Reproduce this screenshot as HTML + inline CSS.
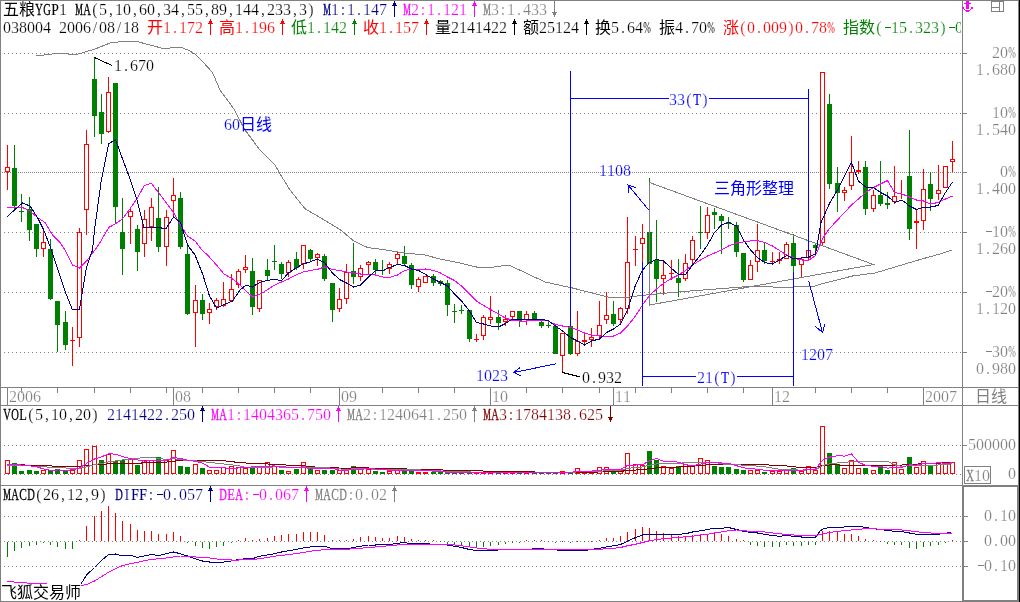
<!DOCTYPE html><html><head><meta charset="utf-8"><style>html,body{margin:0;padding:0;background:#fff}svg{display:block;will-change:transform}</style></head><body><svg width="1020" height="602" viewBox="0 0 1020 602" font-family="Liberation Serif, serif" font-size="16px" text-anchor="middle">
<rect width="1020" height="602" fill="#fff"/>
<g shape-rendering="crispEdges">
<rect x="0" y="0" width="1019" height="1" fill="#808080"/>
<rect x="0" y="0" width="1" height="602" fill="#808080"/>
<rect x="962" y="0" width="1" height="485" fill="#808080"/>
<rect x="1018" y="0" width="1" height="486" fill="#808080"/>
<rect x="1019" y="0" width="1" height="602" fill="#000000"/>
<rect x="0" y="387" width="1019" height="1" fill="#808080"/>
<rect x="0" y="405" width="1019" height="1" fill="#808080"/>
<rect x="0" y="485" width="962" height="1" fill="#808080"/>
<rect x="0" y="601" width="962" height="1" fill="#808080"/>
<rect x="963" y="486" width="55" height="115" fill="none" stroke="#808080" stroke-width="2"/>
<line x1="4" y1="53.5" x2="962" y2="53.5" stroke="#808080" stroke-width="1" stroke-dasharray="1 3"/>
<rect x="963" y="53" width="4" height="1" fill="#808080"/>
<line x1="4" y1="113.5" x2="962" y2="113.5" stroke="#808080" stroke-width="1" stroke-dasharray="1 3"/>
<rect x="963" y="113" width="4" height="1" fill="#808080"/>
<line x1="2" y1="172.5" x2="962" y2="172.5" stroke="#808080" stroke-width="1" stroke-dasharray="1 1"/>
<rect x="963" y="172" width="4" height="1" fill="#808080"/>
<line x1="4" y1="232.5" x2="962" y2="232.5" stroke="#808080" stroke-width="1" stroke-dasharray="1 3"/>
<rect x="963" y="232" width="4" height="1" fill="#808080"/>
<line x1="4" y1="292.5" x2="962" y2="292.5" stroke="#808080" stroke-width="1" stroke-dasharray="1 3"/>
<rect x="963" y="292" width="4" height="1" fill="#808080"/>
<line x1="4" y1="352.5" x2="962" y2="352.5" stroke="#808080" stroke-width="1" stroke-dasharray="1 3"/>
<rect x="963" y="352" width="4" height="1" fill="#808080"/>
<line x1="4" y1="445.5" x2="962" y2="445.5" stroke="#808080" stroke-width="1" stroke-dasharray="1 3"/>
<rect x="963" y="445" width="4" height="1" fill="#808080"/>
<line x1="4" y1="474.5" x2="962" y2="474.5" stroke="#808080" stroke-width="1" stroke-dasharray="1 3"/>
<line x1="4" y1="516.5" x2="962" y2="516.5" stroke="#808080" stroke-width="1" stroke-dasharray="1 3"/>
<rect x="964" y="516" width="4" height="1" fill="#808080"/>
<line x1="4" y1="541.5" x2="962" y2="541.5" stroke="#808080" stroke-width="1" stroke-dasharray="1 3"/>
<rect x="964" y="541" width="4" height="1" fill="#808080"/>
<line x1="4" y1="566.5" x2="962" y2="566.5" stroke="#808080" stroke-width="1" stroke-dasharray="1 3"/>
<rect x="964" y="566" width="4" height="1" fill="#808080"/>
<rect x="21" y="388" width="1" height="5" fill="#808080"/>
<rect x="57" y="388" width="1" height="5" fill="#808080"/>
<rect x="94" y="388" width="1" height="5" fill="#808080"/>
<rect x="130" y="388" width="1" height="5" fill="#808080"/>
<rect x="166" y="388" width="1" height="5" fill="#808080"/>
<rect x="202" y="388" width="1" height="5" fill="#808080"/>
<rect x="238" y="388" width="1" height="5" fill="#808080"/>
<rect x="274" y="388" width="1" height="5" fill="#808080"/>
<rect x="310" y="388" width="1" height="5" fill="#808080"/>
<rect x="382" y="388" width="1" height="5" fill="#808080"/>
<rect x="418" y="388" width="1" height="5" fill="#808080"/>
<rect x="454" y="388" width="1" height="5" fill="#808080"/>
<rect x="526" y="388" width="1" height="5" fill="#808080"/>
<rect x="562" y="388" width="1" height="5" fill="#808080"/>
<rect x="599" y="388" width="1" height="5" fill="#808080"/>
<rect x="635" y="388" width="1" height="5" fill="#808080"/>
<rect x="671" y="388" width="1" height="5" fill="#808080"/>
<rect x="707" y="388" width="1" height="5" fill="#808080"/>
<rect x="743" y="388" width="1" height="5" fill="#808080"/>
<rect x="815" y="388" width="1" height="5" fill="#808080"/>
<rect x="851" y="388" width="1" height="5" fill="#808080"/>
<rect x="887" y="388" width="1" height="5" fill="#808080"/>
<rect x="7" y="388" width="1" height="17" fill="#808080"/>
<rect x="173" y="388" width="1" height="17" fill="#808080"/>
<rect x="339" y="388" width="1" height="17" fill="#808080"/>
<rect x="490" y="388" width="1" height="17" fill="#808080"/>
<rect x="613" y="388" width="1" height="17" fill="#808080"/>
<rect x="772" y="388" width="1" height="17" fill="#808080"/>
<rect x="923" y="388" width="1" height="17" fill="#808080"/>
</g>
<text x="13 21 29 37" y="402" fill="#808080" stroke="#fff" stroke-width="0.22">2006</text>
<text x="179 187" y="402" fill="#808080" stroke="#fff" stroke-width="0.22">08</text>
<text x="345 353" y="402" fill="#808080" stroke="#fff" stroke-width="0.22">09</text>
<text x="496 504" y="402" fill="#808080" stroke="#fff" stroke-width="0.22">10</text>
<text x="619 627" y="402" fill="#808080" stroke="#fff" stroke-width="0.22">11</text>
<text x="778 786" y="402" fill="#808080" stroke="#fff" stroke-width="0.22">12</text>
<text x="929 937 945 953" y="402" fill="#808080" stroke="#fff" stroke-width="0.22">2007</text>
<text x="983 999" y="402" fill="#808080" font-family="Liberation Sans, Noto Sans CJK SC, sans-serif">日线</text>
<g shape-rendering="crispEdges">
<rect x="7" y="145" width="1" height="45" fill="#ff0000"/>
<rect x="5.5" y="167.5" width="4" height="4" fill="#fff" stroke="#ff0000" stroke-width="1"/>
<rect x="14" y="145" width="1" height="65" fill="#008000"/>
<rect x="12" y="168" width="5" height="38" fill="#008000"/>
<rect x="21" y="194" width="1" height="28" fill="#008000"/>
<rect x="19" y="211" width="5" height="1" fill="#008000"/>
<rect x="29" y="197" width="1" height="44" fill="#008000"/>
<rect x="27" y="209" width="5" height="21" fill="#008000"/>
<rect x="36" y="224" width="1" height="33" fill="#008000"/>
<rect x="34" y="224" width="5" height="25" fill="#008000"/>
<rect x="43" y="230" width="1" height="27" fill="#ff0000"/>
<rect x="41.5" y="242.5" width="4" height="6" fill="#fff" stroke="#ff0000" stroke-width="1"/>
<rect x="50" y="239" width="1" height="61" fill="#008000"/>
<rect x="48" y="249" width="5" height="50" fill="#008000"/>
<rect x="57" y="301" width="1" height="51" fill="#008000"/>
<rect x="55" y="301" width="5" height="24" fill="#008000"/>
<rect x="65" y="311" width="1" height="39" fill="#008000"/>
<rect x="63" y="322" width="5" height="23" fill="#008000"/>
<rect x="72" y="327" width="1" height="39" fill="#ff0000"/>
<rect x="70" y="340" width="5" height="1" fill="#ff0000"/>
<rect x="79" y="228" width="1" height="119" fill="#ff0000"/>
<rect x="77.5" y="232.5" width="4" height="105" fill="#fff" stroke="#ff0000" stroke-width="1"/>
<rect x="86" y="130" width="1" height="105" fill="#ff0000"/>
<rect x="84.5" y="144.5" width="4" height="65" fill="#fff" stroke="#ff0000" stroke-width="1"/>
<rect x="94" y="57" width="1" height="80" fill="#008000"/>
<rect x="92" y="79" width="5" height="37" fill="#008000"/>
<rect x="101" y="94" width="1" height="50" fill="#008000"/>
<rect x="99" y="112" width="5" height="22" fill="#008000"/>
<rect x="108" y="77" width="1" height="56" fill="#ff0000"/>
<rect x="106.5" y="92.5" width="4" height="39" fill="#fff" stroke="#ff0000" stroke-width="1"/>
<rect x="115" y="83" width="1" height="141" fill="#008000"/>
<rect x="113" y="83" width="5" height="124" fill="#008000"/>
<rect x="122" y="198" width="1" height="77" fill="#008000"/>
<rect x="120" y="232" width="5" height="17" fill="#008000"/>
<rect x="130" y="207" width="1" height="37" fill="#ff0000"/>
<rect x="128.5" y="211.5" width="4" height="5" fill="#fff" stroke="#ff0000" stroke-width="1"/>
<rect x="137" y="225" width="1" height="46" fill="#008000"/>
<rect x="135" y="229" width="5" height="23" fill="#008000"/>
<rect x="144" y="210" width="1" height="47" fill="#ff0000"/>
<rect x="142.5" y="219.5" width="4" height="24" fill="#fff" stroke="#ff0000" stroke-width="1"/>
<rect x="151" y="198" width="1" height="43" fill="#ff0000"/>
<rect x="149.5" y="207.5" width="4" height="19" fill="#fff" stroke="#ff0000" stroke-width="1"/>
<rect x="158" y="187" width="1" height="65" fill="#008000"/>
<rect x="156" y="218" width="5" height="29" fill="#008000"/>
<rect x="166" y="210" width="1" height="56" fill="#ff0000"/>
<rect x="164.5" y="217.5" width="4" height="29" fill="#fff" stroke="#ff0000" stroke-width="1"/>
<rect x="173" y="178" width="1" height="38" fill="#ff0000"/>
<rect x="171.5" y="195.5" width="4" height="5" fill="#fff" stroke="#ff0000" stroke-width="1"/>
<rect x="180" y="192" width="1" height="57" fill="#008000"/>
<rect x="178" y="198" width="5" height="49" fill="#008000"/>
<rect x="187" y="245" width="1" height="70" fill="#008000"/>
<rect x="185" y="254" width="5" height="60" fill="#008000"/>
<rect x="195" y="285" width="1" height="62" fill="#ff0000"/>
<rect x="193.5" y="300.5" width="4" height="12" fill="#fff" stroke="#ff0000" stroke-width="1"/>
<rect x="202" y="294" width="1" height="26" fill="#008000"/>
<rect x="200" y="300" width="5" height="14" fill="#008000"/>
<rect x="209" y="303" width="1" height="21" fill="#ff0000"/>
<rect x="207.5" y="309.5" width="4" height="3" fill="#fff" stroke="#ff0000" stroke-width="1"/>
<rect x="216" y="298" width="1" height="12" fill="#ff0000"/>
<rect x="214.5" y="300.5" width="4" height="6" fill="#fff" stroke="#ff0000" stroke-width="1"/>
<rect x="223" y="282" width="1" height="25" fill="#ff0000"/>
<rect x="221.5" y="299.5" width="4" height="6" fill="#fff" stroke="#ff0000" stroke-width="1"/>
<rect x="231" y="274" width="1" height="27" fill="#ff0000"/>
<rect x="229.5" y="289.5" width="4" height="11" fill="#fff" stroke="#ff0000" stroke-width="1"/>
<rect x="238" y="269" width="1" height="19" fill="#ff0000"/>
<rect x="236.5" y="271.5" width="4" height="13" fill="#fff" stroke="#ff0000" stroke-width="1"/>
<rect x="245" y="255" width="1" height="18" fill="#ff0000"/>
<rect x="243.5" y="267.5" width="4" height="2" fill="#fff" stroke="#ff0000" stroke-width="1"/>
<rect x="252" y="258" width="1" height="57" fill="#008000"/>
<rect x="250" y="271" width="5" height="36" fill="#008000"/>
<rect x="259" y="280" width="1" height="32" fill="#ff0000"/>
<rect x="257.5" y="280.5" width="4" height="28" fill="#fff" stroke="#ff0000" stroke-width="1"/>
<rect x="267" y="259" width="1" height="21" fill="#008000"/>
<rect x="265" y="270" width="5" height="6" fill="#008000"/>
<rect x="274" y="245" width="1" height="25" fill="#008000"/>
<rect x="272" y="261" width="5" height="1" fill="#008000"/>
<rect x="281" y="262" width="1" height="17" fill="#008000"/>
<rect x="279" y="264" width="5" height="10" fill="#008000"/>
<rect x="288" y="260" width="1" height="17" fill="#ff0000"/>
<rect x="286.5" y="262.5" width="4" height="10" fill="#fff" stroke="#ff0000" stroke-width="1"/>
<rect x="296" y="252" width="1" height="18" fill="#008000"/>
<rect x="294" y="259" width="5" height="9" fill="#008000"/>
<rect x="303" y="245" width="1" height="24" fill="#ff0000"/>
<rect x="301.5" y="245.5" width="4" height="18" fill="#fff" stroke="#ff0000" stroke-width="1"/>
<rect x="310" y="249" width="1" height="13" fill="#008000"/>
<rect x="308" y="250" width="5" height="9" fill="#008000"/>
<rect x="317" y="253" width="1" height="13" fill="#ff0000"/>
<rect x="315.5" y="254.5" width="4" height="3" fill="#fff" stroke="#ff0000" stroke-width="1"/>
<rect x="324" y="254" width="1" height="27" fill="#008000"/>
<rect x="322" y="256" width="5" height="23" fill="#008000"/>
<rect x="332" y="283" width="1" height="39" fill="#008000"/>
<rect x="330" y="283" width="5" height="27" fill="#008000"/>
<rect x="339" y="288" width="1" height="24" fill="#ff0000"/>
<rect x="337.5" y="299.5" width="4" height="9" fill="#fff" stroke="#ff0000" stroke-width="1"/>
<rect x="346" y="264" width="1" height="40" fill="#ff0000"/>
<rect x="344.5" y="272.5" width="4" height="26" fill="#fff" stroke="#ff0000" stroke-width="1"/>
<rect x="353" y="243" width="1" height="41" fill="#008000"/>
<rect x="351" y="271" width="5" height="6" fill="#008000"/>
<rect x="360" y="265" width="1" height="16" fill="#ff0000"/>
<rect x="358.5" y="268.5" width="4" height="8" fill="#fff" stroke="#ff0000" stroke-width="1"/>
<rect x="368" y="261" width="1" height="13" fill="#ff0000"/>
<rect x="366.5" y="262.5" width="4" height="2" fill="#fff" stroke="#ff0000" stroke-width="1"/>
<rect x="375" y="259" width="1" height="15" fill="#008000"/>
<rect x="373" y="262" width="5" height="8" fill="#008000"/>
<rect x="382" y="260" width="1" height="15" fill="#008000"/>
<rect x="380" y="270" width="5" height="1" fill="#008000"/>
<rect x="389" y="262" width="1" height="12" fill="#ff0000"/>
<rect x="387.5" y="264.5" width="4" height="4" fill="#fff" stroke="#ff0000" stroke-width="1"/>
<rect x="397" y="252" width="1" height="12" fill="#ff0000"/>
<rect x="395.5" y="254.5" width="4" height="4" fill="#fff" stroke="#ff0000" stroke-width="1"/>
<rect x="404" y="246" width="1" height="20" fill="#008000"/>
<rect x="402" y="256" width="5" height="8" fill="#008000"/>
<rect x="411" y="263" width="1" height="26" fill="#008000"/>
<rect x="409" y="265" width="5" height="20" fill="#008000"/>
<rect x="418" y="277" width="1" height="15" fill="#ff0000"/>
<rect x="416.5" y="279.5" width="4" height="7" fill="#fff" stroke="#ff0000" stroke-width="1"/>
<rect x="425" y="276" width="1" height="7" fill="#ff0000"/>
<rect x="423.5" y="276.5" width="4" height="6" fill="#fff" stroke="#ff0000" stroke-width="1"/>
<rect x="433" y="274" width="1" height="12" fill="#008000"/>
<rect x="431" y="276" width="5" height="7" fill="#008000"/>
<rect x="440" y="280" width="1" height="6" fill="#008000"/>
<rect x="438" y="281" width="5" height="3" fill="#008000"/>
<rect x="447" y="280" width="1" height="36" fill="#008000"/>
<rect x="445" y="283" width="5" height="22" fill="#008000"/>
<rect x="454" y="304" width="1" height="19" fill="#008000"/>
<rect x="452" y="311" width="5" height="1" fill="#008000"/>
<rect x="461" y="305" width="1" height="9" fill="#008000"/>
<rect x="459" y="310" width="5" height="1" fill="#008000"/>
<rect x="469" y="310" width="1" height="32" fill="#008000"/>
<rect x="467" y="310" width="5" height="29" fill="#008000"/>
<rect x="476" y="334" width="1" height="8" fill="#ff0000"/>
<rect x="474" y="339" width="5" height="1" fill="#ff0000"/>
<rect x="483" y="315" width="1" height="25" fill="#ff0000"/>
<rect x="481.5" y="317.5" width="4" height="18" fill="#fff" stroke="#ff0000" stroke-width="1"/>
<rect x="490" y="296" width="1" height="28" fill="#ff0000"/>
<rect x="488.5" y="317.5" width="4" height="2" fill="#fff" stroke="#ff0000" stroke-width="1"/>
<rect x="498" y="310" width="1" height="20" fill="#008000"/>
<rect x="496" y="317" width="5" height="6" fill="#008000"/>
<rect x="505" y="315" width="1" height="11" fill="#ff0000"/>
<rect x="503.5" y="319.5" width="4" height="2" fill="#fff" stroke="#ff0000" stroke-width="1"/>
<rect x="512" y="311" width="1" height="8" fill="#ff0000"/>
<rect x="510.5" y="311.5" width="4" height="5" fill="#fff" stroke="#ff0000" stroke-width="1"/>
<rect x="519" y="311" width="1" height="16" fill="#008000"/>
<rect x="517" y="311" width="5" height="10" fill="#008000"/>
<rect x="526" y="311" width="1" height="14" fill="#ff0000"/>
<rect x="524.5" y="314.5" width="4" height="5" fill="#fff" stroke="#ff0000" stroke-width="1"/>
<rect x="534" y="311" width="1" height="10" fill="#008000"/>
<rect x="532" y="313" width="5" height="8" fill="#008000"/>
<rect x="541" y="320" width="1" height="8" fill="#008000"/>
<rect x="539" y="322" width="5" height="4" fill="#008000"/>
<rect x="548" y="322" width="1" height="6" fill="#008000"/>
<rect x="546" y="325" width="5" height="1" fill="#008000"/>
<rect x="555" y="324" width="1" height="30" fill="#008000"/>
<rect x="553" y="326" width="5" height="28" fill="#008000"/>
<rect x="562" y="333" width="1" height="38" fill="#ff0000"/>
<rect x="560.5" y="333.5" width="4" height="22" fill="#fff" stroke="#ff0000" stroke-width="1"/>
<rect x="570" y="326" width="1" height="29" fill="#008000"/>
<rect x="568" y="326" width="5" height="28" fill="#008000"/>
<rect x="577" y="311" width="1" height="45" fill="#ff0000"/>
<rect x="575.5" y="341.5" width="4" height="12" fill="#fff" stroke="#ff0000" stroke-width="1"/>
<rect x="584" y="332" width="1" height="14" fill="#ff0000"/>
<rect x="582.5" y="340.5" width="4" height="1" fill="#fff" stroke="#ff0000" stroke-width="1"/>
<rect x="591" y="328" width="1" height="19" fill="#ff0000"/>
<rect x="589.5" y="337.5" width="4" height="2" fill="#fff" stroke="#ff0000" stroke-width="1"/>
<rect x="599" y="301" width="1" height="39" fill="#ff0000"/>
<rect x="597.5" y="325.5" width="4" height="10" fill="#fff" stroke="#ff0000" stroke-width="1"/>
<rect x="606" y="292" width="1" height="32" fill="#ff0000"/>
<rect x="604.5" y="315.5" width="4" height="4" fill="#fff" stroke="#ff0000" stroke-width="1"/>
<rect x="613" y="301" width="1" height="25" fill="#008000"/>
<rect x="611" y="314" width="5" height="10" fill="#008000"/>
<rect x="620" y="307" width="1" height="17" fill="#ff0000"/>
<rect x="618.5" y="308.5" width="4" height="11" fill="#fff" stroke="#ff0000" stroke-width="1"/>
<rect x="627" y="217" width="1" height="97" fill="#ff0000"/>
<rect x="625.5" y="262.5" width="4" height="46" fill="#fff" stroke="#ff0000" stroke-width="1"/>
<rect x="635" y="236" width="1" height="30" fill="#ff0000"/>
<rect x="633" y="249" width="5" height="1" fill="#ff0000"/>
<rect x="642" y="224" width="1" height="38" fill="#ff0000"/>
<rect x="640.5" y="238.5" width="4" height="5" fill="#fff" stroke="#ff0000" stroke-width="1"/>
<rect x="649" y="178" width="1" height="87" fill="#008000"/>
<rect x="647" y="232" width="5" height="32" fill="#008000"/>
<rect x="656" y="220" width="1" height="82" fill="#008000"/>
<rect x="654" y="260" width="5" height="19" fill="#008000"/>
<rect x="663" y="262" width="1" height="33" fill="#ff0000"/>
<rect x="661.5" y="275.5" width="4" height="3" fill="#fff" stroke="#ff0000" stroke-width="1"/>
<rect x="671" y="260" width="1" height="20" fill="#ff0000"/>
<rect x="669" y="273" width="5" height="1" fill="#ff0000"/>
<rect x="678" y="259" width="1" height="38" fill="#008000"/>
<rect x="676" y="278" width="5" height="5" fill="#008000"/>
<rect x="685" y="254" width="1" height="27" fill="#ff0000"/>
<rect x="683.5" y="263.5" width="4" height="15" fill="#fff" stroke="#ff0000" stroke-width="1"/>
<rect x="692" y="236" width="1" height="28" fill="#ff0000"/>
<rect x="690.5" y="240.5" width="4" height="19" fill="#fff" stroke="#ff0000" stroke-width="1"/>
<rect x="700" y="206" width="1" height="43" fill="#008000"/>
<rect x="698" y="232" width="5" height="1" fill="#008000"/>
<rect x="707" y="207" width="1" height="32" fill="#ff0000"/>
<rect x="705.5" y="215.5" width="4" height="17" fill="#fff" stroke="#ff0000" stroke-width="1"/>
<rect x="714" y="208" width="1" height="21" fill="#008000"/>
<rect x="712" y="212" width="5" height="3" fill="#008000"/>
<rect x="721" y="214" width="1" height="40" fill="#008000"/>
<rect x="719" y="216" width="5" height="5" fill="#008000"/>
<rect x="728" y="217" width="1" height="12" fill="#008000"/>
<rect x="726" y="222" width="5" height="2" fill="#008000"/>
<rect x="736" y="222" width="1" height="35" fill="#008000"/>
<rect x="734" y="225" width="5" height="27" fill="#008000"/>
<rect x="743" y="253" width="1" height="29" fill="#008000"/>
<rect x="741" y="253" width="5" height="27" fill="#008000"/>
<rect x="750" y="260" width="1" height="20" fill="#ff0000"/>
<rect x="748.5" y="265.5" width="4" height="14" fill="#fff" stroke="#ff0000" stroke-width="1"/>
<rect x="757" y="224" width="1" height="48" fill="#ff0000"/>
<rect x="755.5" y="250.5" width="4" height="11" fill="#fff" stroke="#ff0000" stroke-width="1"/>
<rect x="764" y="242" width="1" height="22" fill="#008000"/>
<rect x="762" y="250" width="5" height="11" fill="#008000"/>
<rect x="772" y="252" width="1" height="13" fill="#ff0000"/>
<rect x="770" y="261" width="5" height="1" fill="#ff0000"/>
<rect x="779" y="252" width="1" height="12" fill="#ff0000"/>
<rect x="777.5" y="259.5" width="4" height="1" fill="#fff" stroke="#ff0000" stroke-width="1"/>
<rect x="786" y="242" width="1" height="17" fill="#ff0000"/>
<rect x="784.5" y="244.5" width="4" height="14" fill="#fff" stroke="#ff0000" stroke-width="1"/>
<rect x="793" y="234" width="1" height="38" fill="#008000"/>
<rect x="791" y="243" width="5" height="23" fill="#008000"/>
<rect x="801" y="257" width="1" height="20" fill="#ff0000"/>
<rect x="799.5" y="259.5" width="4" height="5" fill="#fff" stroke="#ff0000" stroke-width="1"/>
<rect x="808" y="236" width="1" height="25" fill="#ff0000"/>
<rect x="806.5" y="250.5" width="4" height="7" fill="#fff" stroke="#ff0000" stroke-width="1"/>
<rect x="815" y="244" width="1" height="11" fill="#008000"/>
<rect x="813" y="245" width="5" height="3" fill="#008000"/>
<rect x="822" y="72" width="1" height="173" fill="#ff0000"/>
<rect x="820.5" y="72.5" width="4" height="170" fill="#fff" stroke="#ff0000" stroke-width="1"/>
<rect x="829" y="94" width="1" height="95" fill="#008000"/>
<rect x="827" y="104" width="5" height="80" fill="#008000"/>
<rect x="837" y="167" width="1" height="45" fill="#008000"/>
<rect x="835" y="183" width="5" height="10" fill="#008000"/>
<rect x="844" y="187" width="1" height="14" fill="#ff0000"/>
<rect x="842.5" y="190.5" width="4" height="2" fill="#fff" stroke="#ff0000" stroke-width="1"/>
<rect x="851" y="136" width="1" height="54" fill="#ff0000"/>
<rect x="849.5" y="172.5" width="4" height="13" fill="#fff" stroke="#ff0000" stroke-width="1"/>
<rect x="858" y="161" width="1" height="13" fill="#ff0000"/>
<rect x="856.5" y="170.5" width="4" height="1" fill="#fff" stroke="#ff0000" stroke-width="1"/>
<rect x="865" y="161" width="1" height="54" fill="#008000"/>
<rect x="863" y="167" width="5" height="42" fill="#008000"/>
<rect x="873" y="190" width="1" height="22" fill="#ff0000"/>
<rect x="871.5" y="195.5" width="4" height="13" fill="#fff" stroke="#ff0000" stroke-width="1"/>
<rect x="880" y="161" width="1" height="45" fill="#008000"/>
<rect x="878" y="195" width="5" height="9" fill="#008000"/>
<rect x="887" y="192" width="1" height="17" fill="#008000"/>
<rect x="885" y="203" width="5" height="2" fill="#008000"/>
<rect x="894" y="166" width="1" height="38" fill="#ff0000"/>
<rect x="892.5" y="196.5" width="4" height="5" fill="#fff" stroke="#ff0000" stroke-width="1"/>
<rect x="901" y="180" width="1" height="19" fill="#ff0000"/>
<rect x="909" y="130" width="1" height="110" fill="#008000"/>
<rect x="907" y="176" width="5" height="53" fill="#008000"/>
<rect x="916" y="210" width="1" height="39" fill="#ff0000"/>
<rect x="914.5" y="221.5" width="4" height="1" fill="#fff" stroke="#ff0000" stroke-width="1"/>
<rect x="923" y="169" width="1" height="61" fill="#ff0000"/>
<rect x="921.5" y="189.5" width="4" height="31" fill="#fff" stroke="#ff0000" stroke-width="1"/>
<rect x="930" y="172" width="1" height="39" fill="#008000"/>
<rect x="928" y="184" width="5" height="15" fill="#008000"/>
<rect x="938" y="165" width="1" height="35" fill="#ff0000"/>
<rect x="936.5" y="190.5" width="4" height="3" fill="#fff" stroke="#ff0000" stroke-width="1"/>
<rect x="945" y="166" width="1" height="22" fill="#ff0000"/>
<rect x="943.5" y="166.5" width="4" height="21" fill="#fff" stroke="#ff0000" stroke-width="1"/>
<rect x="952" y="141" width="1" height="31" fill="#ff0000"/>
<rect x="950.5" y="159.5" width="4" height="2" fill="#fff" stroke="#ff0000" stroke-width="1"/>
<rect x="5.5" y="460.5" width="4" height="13" fill="#fff" stroke="#ff0000" stroke-width="1"/>
<rect x="12" y="463" width="5" height="11" fill="#008000"/>
<rect x="19" y="471" width="5" height="3" fill="#008000"/>
<rect x="27" y="470" width="5" height="4" fill="#008000"/>
<rect x="34" y="471" width="5" height="3" fill="#008000"/>
<rect x="41.5" y="470.5" width="4" height="3" fill="#fff" stroke="#ff0000" stroke-width="1"/>
<rect x="48" y="470" width="5" height="4" fill="#008000"/>
<rect x="55" y="469" width="5" height="5" fill="#008000"/>
<rect x="63" y="470" width="5" height="4" fill="#008000"/>
<rect x="70.5" y="470.5" width="4" height="3" fill="#fff" stroke="#ff0000" stroke-width="1"/>
<rect x="77.5" y="460.5" width="4" height="13" fill="#fff" stroke="#ff0000" stroke-width="1"/>
<rect x="84.5" y="449.5" width="4" height="24" fill="#fff" stroke="#ff0000" stroke-width="1"/>
<rect x="92.5" y="446.5" width="4" height="27" fill="#fff" stroke="#ff0000" stroke-width="1"/>
<rect x="99" y="460" width="5" height="14" fill="#008000"/>
<rect x="106.5" y="454.5" width="4" height="19" fill="#fff" stroke="#ff0000" stroke-width="1"/>
<rect x="113" y="461" width="5" height="13" fill="#008000"/>
<rect x="120" y="460" width="5" height="14" fill="#008000"/>
<rect x="128.5" y="459.5" width="4" height="14" fill="#fff" stroke="#ff0000" stroke-width="1"/>
<rect x="135" y="465" width="5" height="9" fill="#008000"/>
<rect x="142.5" y="460.5" width="4" height="13" fill="#fff" stroke="#ff0000" stroke-width="1"/>
<rect x="149.5" y="460.5" width="4" height="13" fill="#fff" stroke="#ff0000" stroke-width="1"/>
<rect x="156" y="457" width="5" height="17" fill="#008000"/>
<rect x="164.5" y="460.5" width="4" height="13" fill="#fff" stroke="#ff0000" stroke-width="1"/>
<rect x="171.5" y="450.5" width="4" height="23" fill="#fff" stroke="#ff0000" stroke-width="1"/>
<rect x="178" y="466" width="5" height="8" fill="#008000"/>
<rect x="185" y="467" width="5" height="7" fill="#008000"/>
<rect x="193.5" y="464.5" width="4" height="9" fill="#fff" stroke="#ff0000" stroke-width="1"/>
<rect x="200" y="468" width="5" height="6" fill="#008000"/>
<rect x="207.5" y="470.5" width="4" height="3" fill="#fff" stroke="#ff0000" stroke-width="1"/>
<rect x="214.5" y="470.5" width="4" height="3" fill="#fff" stroke="#ff0000" stroke-width="1"/>
<rect x="221.5" y="467.5" width="4" height="6" fill="#fff" stroke="#ff0000" stroke-width="1"/>
<rect x="229.5" y="466.5" width="4" height="7" fill="#fff" stroke="#ff0000" stroke-width="1"/>
<rect x="236.5" y="467.5" width="4" height="6" fill="#fff" stroke="#ff0000" stroke-width="1"/>
<rect x="243.5" y="468.5" width="4" height="5" fill="#fff" stroke="#ff0000" stroke-width="1"/>
<rect x="250" y="468" width="5" height="6" fill="#008000"/>
<rect x="257.5" y="466.5" width="4" height="7" fill="#fff" stroke="#ff0000" stroke-width="1"/>
<rect x="265.5" y="462.5" width="4" height="11" fill="#fff" stroke="#ff0000" stroke-width="1"/>
<rect x="272.5" y="466.5" width="4" height="7" fill="#fff" stroke="#ff0000" stroke-width="1"/>
<rect x="279" y="470" width="5" height="4" fill="#008000"/>
<rect x="286.5" y="471.5" width="4" height="2" fill="#fff" stroke="#ff0000" stroke-width="1"/>
<rect x="294" y="469" width="5" height="5" fill="#008000"/>
<rect x="301.5" y="462.5" width="4" height="11" fill="#fff" stroke="#ff0000" stroke-width="1"/>
<rect x="308" y="469" width="5" height="5" fill="#008000"/>
<rect x="315.5" y="470.5" width="4" height="3" fill="#fff" stroke="#ff0000" stroke-width="1"/>
<rect x="322" y="470" width="5" height="4" fill="#008000"/>
<rect x="330" y="470" width="5" height="4" fill="#008000"/>
<rect x="337.5" y="470.5" width="4" height="3" fill="#fff" stroke="#ff0000" stroke-width="1"/>
<rect x="344.5" y="470.5" width="4" height="3" fill="#fff" stroke="#ff0000" stroke-width="1"/>
<rect x="351" y="466" width="5" height="8" fill="#008000"/>
<rect x="358.5" y="469.5" width="4" height="4" fill="#fff" stroke="#ff0000" stroke-width="1"/>
<rect x="366.5" y="469.5" width="4" height="4" fill="#fff" stroke="#ff0000" stroke-width="1"/>
<rect x="373" y="471" width="5" height="3" fill="#008000"/>
<rect x="380" y="472" width="5" height="2" fill="#008000"/>
<rect x="387.5" y="471.5" width="4" height="2" fill="#fff" stroke="#ff0000" stroke-width="1"/>
<rect x="395.5" y="468.5" width="4" height="5" fill="#fff" stroke="#ff0000" stroke-width="1"/>
<rect x="402" y="470" width="5" height="4" fill="#008000"/>
<rect x="409" y="470" width="5" height="4" fill="#008000"/>
<rect x="416" y="472" width="5" height="2" fill="#ff0000"/>
<rect x="423" y="472" width="5" height="2" fill="#ff0000"/>
<rect x="431" y="472" width="5" height="2" fill="#008000"/>
<rect x="438" y="472" width="5" height="2" fill="#008000"/>
<rect x="445" y="472" width="5" height="2" fill="#008000"/>
<rect x="452" y="473" width="5" height="1" fill="#008000"/>
<rect x="459" y="473" width="5" height="1" fill="#008000"/>
<rect x="467" y="472" width="5" height="2" fill="#008000"/>
<rect x="474" y="473" width="5" height="1" fill="#ff0000"/>
<rect x="481" y="472" width="5" height="2" fill="#ff0000"/>
<rect x="488" y="473" width="5" height="1" fill="#ff0000"/>
<rect x="496" y="472" width="5" height="2" fill="#008000"/>
<rect x="503" y="472" width="5" height="2" fill="#ff0000"/>
<rect x="510" y="472" width="5" height="2" fill="#ff0000"/>
<rect x="517" y="472" width="5" height="2" fill="#008000"/>
<rect x="524" y="472" width="5" height="2" fill="#ff0000"/>
<rect x="532" y="472" width="5" height="2" fill="#008000"/>
<rect x="539" y="473" width="5" height="1" fill="#008000"/>
<rect x="546" y="473" width="5" height="1" fill="#008000"/>
<rect x="553" y="472" width="5" height="2" fill="#008000"/>
<rect x="560.5" y="471.5" width="4" height="2" fill="#fff" stroke="#ff0000" stroke-width="1"/>
<rect x="568" y="472" width="5" height="2" fill="#008000"/>
<rect x="575.5" y="468.5" width="4" height="5" fill="#fff" stroke="#ff0000" stroke-width="1"/>
<rect x="582" y="472" width="5" height="2" fill="#ff0000"/>
<rect x="589" y="472" width="5" height="2" fill="#ff0000"/>
<rect x="597.5" y="467.5" width="4" height="6" fill="#fff" stroke="#ff0000" stroke-width="1"/>
<rect x="604.5" y="467.5" width="4" height="6" fill="#fff" stroke="#ff0000" stroke-width="1"/>
<rect x="611" y="471" width="5" height="3" fill="#008000"/>
<rect x="618.5" y="470.5" width="4" height="3" fill="#fff" stroke="#ff0000" stroke-width="1"/>
<rect x="625.5" y="453.5" width="4" height="20" fill="#fff" stroke="#ff0000" stroke-width="1"/>
<rect x="633.5" y="464.5" width="4" height="9" fill="#fff" stroke="#ff0000" stroke-width="1"/>
<rect x="640.5" y="465.5" width="4" height="8" fill="#fff" stroke="#ff0000" stroke-width="1"/>
<rect x="647" y="451" width="5" height="23" fill="#008000"/>
<rect x="654" y="460" width="5" height="14" fill="#008000"/>
<rect x="661.5" y="466.5" width="4" height="7" fill="#fff" stroke="#ff0000" stroke-width="1"/>
<rect x="669.5" y="468.5" width="4" height="5" fill="#fff" stroke="#ff0000" stroke-width="1"/>
<rect x="676" y="466" width="5" height="8" fill="#008000"/>
<rect x="683.5" y="464.5" width="4" height="9" fill="#fff" stroke="#ff0000" stroke-width="1"/>
<rect x="690.5" y="465.5" width="4" height="8" fill="#fff" stroke="#ff0000" stroke-width="1"/>
<rect x="698.5" y="458.5" width="4" height="15" fill="#fff" stroke="#ff0000" stroke-width="1"/>
<rect x="705.5" y="460.5" width="4" height="13" fill="#fff" stroke="#ff0000" stroke-width="1"/>
<rect x="712" y="466" width="5" height="8" fill="#008000"/>
<rect x="719" y="467" width="5" height="7" fill="#008000"/>
<rect x="726" y="467" width="5" height="7" fill="#008000"/>
<rect x="734" y="469" width="5" height="5" fill="#008000"/>
<rect x="741" y="470" width="5" height="4" fill="#008000"/>
<rect x="748.5" y="470.5" width="4" height="3" fill="#fff" stroke="#ff0000" stroke-width="1"/>
<rect x="755.5" y="470.5" width="4" height="3" fill="#fff" stroke="#ff0000" stroke-width="1"/>
<rect x="762" y="472" width="5" height="2" fill="#008000"/>
<rect x="770.5" y="471.5" width="4" height="2" fill="#fff" stroke="#ff0000" stroke-width="1"/>
<rect x="777.5" y="471.5" width="4" height="2" fill="#fff" stroke="#ff0000" stroke-width="1"/>
<rect x="784.5" y="470.5" width="4" height="3" fill="#fff" stroke="#ff0000" stroke-width="1"/>
<rect x="791" y="468" width="5" height="6" fill="#008000"/>
<rect x="799.5" y="471.5" width="4" height="2" fill="#fff" stroke="#ff0000" stroke-width="1"/>
<rect x="806.5" y="466.5" width="4" height="7" fill="#fff" stroke="#ff0000" stroke-width="1"/>
<rect x="813.5" y="470.5" width="4" height="3" fill="#fff" stroke="#ff0000" stroke-width="1"/>
<rect x="820.5" y="426.5" width="4" height="47" fill="#fff" stroke="#ff0000" stroke-width="1"/>
<rect x="827" y="453" width="5" height="21" fill="#008000"/>
<rect x="835" y="464" width="5" height="10" fill="#008000"/>
<rect x="842.5" y="468.5" width="4" height="5" fill="#fff" stroke="#ff0000" stroke-width="1"/>
<rect x="849.5" y="460.5" width="4" height="13" fill="#fff" stroke="#ff0000" stroke-width="1"/>
<rect x="856.5" y="468.5" width="4" height="5" fill="#fff" stroke="#ff0000" stroke-width="1"/>
<rect x="863" y="468" width="5" height="6" fill="#008000"/>
<rect x="871.5" y="470.5" width="4" height="3" fill="#fff" stroke="#ff0000" stroke-width="1"/>
<rect x="878" y="466" width="5" height="8" fill="#008000"/>
<rect x="885" y="470" width="5" height="4" fill="#008000"/>
<rect x="892.5" y="462.5" width="4" height="11" fill="#fff" stroke="#ff0000" stroke-width="1"/>
<rect x="899.5" y="469.5" width="4" height="4" fill="#fff" stroke="#ff0000" stroke-width="1"/>
<rect x="907" y="457" width="5" height="17" fill="#008000"/>
<rect x="914.5" y="467.5" width="4" height="6" fill="#fff" stroke="#ff0000" stroke-width="1"/>
<rect x="921.5" y="461.5" width="4" height="12" fill="#fff" stroke="#ff0000" stroke-width="1"/>
<rect x="928" y="466" width="5" height="8" fill="#008000"/>
<rect x="936.5" y="462.5" width="4" height="11" fill="#fff" stroke="#ff0000" stroke-width="1"/>
<rect x="943.5" y="462.5" width="4" height="11" fill="#fff" stroke="#ff0000" stroke-width="1"/>
<rect x="950.5" y="462.5" width="4" height="11" fill="#fff" stroke="#ff0000" stroke-width="1"/>
<rect x="7" y="542" width="1" height="15" fill="#008000"/>
<rect x="14" y="542" width="1" height="9" fill="#008000"/>
<rect x="21" y="542" width="1" height="6" fill="#008000"/>
<rect x="29" y="542" width="1" height="4" fill="#008000"/>
<rect x="36" y="542" width="1" height="3" fill="#008000"/>
<rect x="43" y="542" width="1" height="1" fill="#008000"/>
<rect x="50" y="542" width="1" height="3" fill="#008000"/>
<rect x="57" y="542" width="1" height="5" fill="#008000"/>
<rect x="65" y="542" width="1" height="7" fill="#008000"/>
<rect x="72" y="542" width="1" height="7" fill="#008000"/>
<rect x="79" y="540" width="1" height="1" fill="#ff0000"/>
<rect x="86" y="526" width="1" height="15" fill="#ff0000"/>
<rect x="94" y="516" width="1" height="25" fill="#ff0000"/>
<rect x="101" y="511" width="1" height="30" fill="#ff0000"/>
<rect x="108" y="506" width="1" height="35" fill="#ff0000"/>
<rect x="115" y="513" width="1" height="28" fill="#ff0000"/>
<rect x="122" y="521" width="1" height="20" fill="#ff0000"/>
<rect x="130" y="524" width="1" height="17" fill="#ff0000"/>
<rect x="137" y="530" width="1" height="11" fill="#ff0000"/>
<rect x="144" y="531" width="1" height="10" fill="#ff0000"/>
<rect x="151" y="531" width="1" height="10" fill="#ff0000"/>
<rect x="158" y="534" width="1" height="7" fill="#ff0000"/>
<rect x="166" y="534" width="1" height="7" fill="#ff0000"/>
<rect x="173" y="532" width="1" height="9" fill="#ff0000"/>
<rect x="180" y="536" width="1" height="5" fill="#ff0000"/>
<rect x="187" y="542" width="1" height="1" fill="#008000"/>
<rect x="195" y="542" width="1" height="4" fill="#008000"/>
<rect x="202" y="542" width="1" height="6" fill="#008000"/>
<rect x="209" y="542" width="1" height="7" fill="#008000"/>
<rect x="216" y="542" width="1" height="5" fill="#008000"/>
<rect x="223" y="542" width="1" height="4" fill="#008000"/>
<rect x="231" y="542" width="1" height="1" fill="#008000"/>
<rect x="238" y="540" width="1" height="1" fill="#ff0000"/>
<rect x="245" y="538" width="1" height="3" fill="#ff0000"/>
<rect x="252" y="540" width="1" height="1" fill="#ff0000"/>
<rect x="259" y="539" width="1" height="2" fill="#ff0000"/>
<rect x="267" y="538" width="1" height="3" fill="#ff0000"/>
<rect x="274" y="536" width="1" height="5" fill="#ff0000"/>
<rect x="281" y="535" width="1" height="6" fill="#ff0000"/>
<rect x="288" y="534" width="1" height="7" fill="#ff0000"/>
<rect x="296" y="534" width="1" height="7" fill="#ff0000"/>
<rect x="303" y="532" width="1" height="9" fill="#ff0000"/>
<rect x="310" y="532" width="1" height="9" fill="#ff0000"/>
<rect x="317" y="532" width="1" height="9" fill="#ff0000"/>
<rect x="324" y="535" width="1" height="6" fill="#ff0000"/>
<rect x="332" y="540" width="1" height="1" fill="#ff0000"/>
<rect x="339" y="540" width="1" height="1" fill="#ff0000"/>
<rect x="346" y="540" width="1" height="1" fill="#ff0000"/>
<rect x="353" y="539" width="1" height="2" fill="#ff0000"/>
<rect x="360" y="537" width="1" height="4" fill="#ff0000"/>
<rect x="368" y="536" width="1" height="5" fill="#ff0000"/>
<rect x="375" y="537" width="1" height="4" fill="#ff0000"/>
<rect x="382" y="538" width="1" height="3" fill="#ff0000"/>
<rect x="389" y="538" width="1" height="3" fill="#ff0000"/>
<rect x="397" y="536" width="1" height="5" fill="#ff0000"/>
<rect x="404" y="537" width="1" height="4" fill="#ff0000"/>
<rect x="411" y="539" width="1" height="2" fill="#ff0000"/>
<rect x="418" y="540" width="1" height="1" fill="#ff0000"/>
<rect x="425" y="540" width="1" height="1" fill="#ff0000"/>
<rect x="433" y="540" width="1" height="1" fill="#ff0000"/>
<rect x="440" y="541" width="1" height="1" fill="#008000"/>
<rect x="447" y="542" width="1" height="2" fill="#008000"/>
<rect x="454" y="542" width="1" height="3" fill="#008000"/>
<rect x="461" y="542" width="1" height="4" fill="#008000"/>
<rect x="469" y="542" width="1" height="5" fill="#008000"/>
<rect x="476" y="542" width="1" height="6" fill="#008000"/>
<rect x="483" y="542" width="1" height="5" fill="#008000"/>
<rect x="490" y="542" width="1" height="4" fill="#008000"/>
<rect x="498" y="542" width="1" height="3" fill="#008000"/>
<rect x="505" y="542" width="1" height="2" fill="#008000"/>
<rect x="512" y="542" width="1" height="1" fill="#008000"/>
<rect x="519" y="542" width="1" height="1" fill="#008000"/>
<rect x="526" y="540" width="1" height="1" fill="#ff0000"/>
<rect x="534" y="540" width="1" height="1" fill="#ff0000"/>
<rect x="541" y="540" width="1" height="1" fill="#ff0000"/>
<rect x="548" y="541" width="1" height="1" fill="#ff0000"/>
<rect x="555" y="542" width="1" height="1" fill="#008000"/>
<rect x="562" y="541" width="1" height="1" fill="#ff0000"/>
<rect x="570" y="542" width="1" height="1" fill="#008000"/>
<rect x="577" y="541" width="1" height="1" fill="#ff0000"/>
<rect x="584" y="541" width="1" height="1" fill="#008000"/>
<rect x="591" y="541" width="1" height="1" fill="#ff0000"/>
<rect x="599" y="540" width="1" height="1" fill="#ff0000"/>
<rect x="606" y="538" width="1" height="3" fill="#ff0000"/>
<rect x="613" y="538" width="1" height="3" fill="#ff0000"/>
<rect x="620" y="536" width="1" height="5" fill="#ff0000"/>
<rect x="627" y="532" width="1" height="9" fill="#ff0000"/>
<rect x="635" y="529" width="1" height="12" fill="#ff0000"/>
<rect x="642" y="527" width="1" height="14" fill="#ff0000"/>
<rect x="649" y="528" width="1" height="13" fill="#ff0000"/>
<rect x="656" y="531" width="1" height="10" fill="#ff0000"/>
<rect x="663" y="533" width="1" height="8" fill="#ff0000"/>
<rect x="671" y="534" width="1" height="7" fill="#ff0000"/>
<rect x="678" y="536" width="1" height="5" fill="#ff0000"/>
<rect x="685" y="536" width="1" height="5" fill="#ff0000"/>
<rect x="692" y="535" width="1" height="6" fill="#ff0000"/>
<rect x="700" y="534" width="1" height="7" fill="#ff0000"/>
<rect x="707" y="534" width="1" height="7" fill="#ff0000"/>
<rect x="714" y="533" width="1" height="8" fill="#ff0000"/>
<rect x="721" y="534" width="1" height="7" fill="#ff0000"/>
<rect x="728" y="536" width="1" height="5" fill="#ff0000"/>
<rect x="736" y="539" width="1" height="2" fill="#ff0000"/>
<rect x="743" y="540" width="1" height="1" fill="#ff0000"/>
<rect x="750" y="542" width="1" height="3" fill="#008000"/>
<rect x="757" y="542" width="1" height="4" fill="#008000"/>
<rect x="764" y="542" width="1" height="5" fill="#008000"/>
<rect x="772" y="542" width="1" height="5" fill="#008000"/>
<rect x="779" y="542" width="1" height="5" fill="#008000"/>
<rect x="786" y="542" width="1" height="3" fill="#008000"/>
<rect x="793" y="542" width="1" height="4" fill="#008000"/>
<rect x="801" y="542" width="1" height="4" fill="#008000"/>
<rect x="808" y="542" width="1" height="3" fill="#008000"/>
<rect x="815" y="542" width="1" height="3" fill="#008000"/>
<rect x="822" y="531" width="1" height="10" fill="#ff0000"/>
<rect x="829" y="531" width="1" height="10" fill="#ff0000"/>
<rect x="837" y="532" width="1" height="9" fill="#ff0000"/>
<rect x="844" y="534" width="1" height="7" fill="#ff0000"/>
<rect x="851" y="534" width="1" height="7" fill="#ff0000"/>
<rect x="858" y="536" width="1" height="5" fill="#ff0000"/>
<rect x="865" y="539" width="1" height="2" fill="#ff0000"/>
<rect x="873" y="540" width="1" height="1" fill="#ff0000"/>
<rect x="880" y="541" width="1" height="1" fill="#ff0000"/>
<rect x="887" y="542" width="1" height="2" fill="#008000"/>
<rect x="894" y="542" width="1" height="3" fill="#008000"/>
<rect x="901" y="542" width="1" height="3" fill="#008000"/>
<rect x="909" y="542" width="1" height="6" fill="#008000"/>
<rect x="916" y="542" width="1" height="7" fill="#008000"/>
<rect x="923" y="542" width="1" height="5" fill="#008000"/>
<rect x="930" y="542" width="1" height="4" fill="#008000"/>
<rect x="938" y="542" width="1" height="3" fill="#008000"/>
<rect x="945" y="542" width="1" height="1" fill="#008000"/>
<rect x="952" y="540" width="1" height="1" fill="#ff0000"/>
</g>
<g shape-rendering="crispEdges">
<polyline points="36,56 48,54.5 61,53 75,55 85,52 95,49 110,43 122,41.5 135,41 150,45 165,49 172,47.5 180,47 188,50 195,54 203,62 212.5,72.5 220,90 233.75,108.75 245,130 260,150 275,165 280,173.75 290,190 305,208.75 320,217.5 340,229.5 353.75,241 367.5,247.5 382.5,249.5 404.5,253 425,255 440,259 457.5,262.5 476.5,267 493.75,267 504.5,265.5 511,266 545,282 572.5,288 610,297.5 625,297.5 650,294.5 690,291 755,286 782.5,287.5 815,286 821,284 852.5,276 875,273 915,261 945,252.5 952,250" fill="none" stroke="#808080" stroke-width="1" />
<polyline points="649.5,182.5 873.5,264.5 649.5,305 649.5,182.5" fill="none" stroke="#808080" stroke-width="1" />
<polyline points="7,207.5 22.5,207.5 30,211 37.5,217.5 45,222.5 52.5,235 60,242.5 65,250 72.5,265 79.5,268 87.5,260 95,250 100,242.5 108.75,227.5 115.5,223.75 122.5,218.75 130,208.75 137,198.75 144,186 151,183 158.5,192.5 166,202.5 173.5,212.5 180.5,225 187.5,236 195,241 202,250 207.5,255 216.5,265 224,274 232.5,279 240,285 246,291 252.5,297 259.5,294.5 267,290 274,285.5 281.5,282 288.5,279 296,275 303,272 310,270.5 317,269.5 324.5,267 332.5,269.5 339.5,270.5 346.5,272 353.5,273 360.5,274 368.5,274 375.5,275 382.5,277 389.5,277.5 397.5,275 404.5,270.5 411.5,269 418.5,269.5 425.5,269 433.5,270.5 440.5,273 447.5,277 454.5,280.5 461.5,286 469.5,294 476.5,301 483.5,305.5 490.5,309.5 498.5,314 504.5,317.5 512.5,320.5 519.5,321 526.5,321 534,320.5 541,320.5 548,321 555.5,324.5 562.5,326 570.5,327.5 577.5,330 584.5,333 591.5,335 599.5,336 606.5,336 613.5,336 620.5,333 627.5,326 635.5,316 642.5,305 649.5,295.5 656.5,289 663.5,283.5 670.5,279 678.5,275 685.5,270.5 692.5,265 700.5,260 707.5,256 714.5,253 721.5,250 728.5,246 736.5,243 743.5,242 750.5,241 757.5,240.5 764.5,242.5 772.5,246 779.5,250.5 786.5,255 793.5,258 801.5,260 808.5,260.5 815.5,255.5 823,238 829.5,228.5 837.5,220 844.5,212.5 851.5,205 858.5,199 865.5,192.5 873.5,187.5 880.5,184 887.5,180.5 894.5,192.5 902,194 909.5,197 916.5,200 923.5,201 930.5,204 938,202.5 945.5,199 952.5,196" fill="none" stroke="#ff00ff" stroke-width="1" />
<polyline points="7,216.75 14.5,210 22.5,203 30,206 37.5,217.5 43.75,230 51,248.75 58,270 65.5,292.5 72.5,310 79.5,309.5 86.5,267.5 92.5,250 94.5,230 101,182.5 108.75,143.75 115.5,139.5 122.5,158.75 130,178.75 137,200 144,227.5 151,227.5 158.5,227.5 166,228.75 173.5,217 180.5,222.5 187.5,245 195,255 202.5,273.75 209.5,296 216.5,308 224,304.5 232.5,301 240,290 246,285 252.5,287 259.5,282.5 267,280.5 274,279.5 281.5,280.5 288.5,273 296,268 303,264 310,262 317,259 324.5,262.5 332.5,273 339.5,279.5 346.5,283 353.5,287 360.5,285 368.5,277 375.5,270.5 382.5,270.5 389.5,267.5 397.5,264.5 404.5,265.5 411.5,269 418.5,270.5 425.5,274.5 433.5,279 440.5,282.5 447.5,286 454.5,294 461.5,301 469.5,311 476.5,322.5 483.5,324 490.5,326 498.5,327 504.5,324 512.5,319 519.5,319 526.5,319 534,319 541,319.5 548,320.5 555.5,326 562.5,331 570.5,337.5 577.5,341 584.5,345 591.5,341 599.5,339 606.5,332.5 613.5,329 620.5,324 627.5,310 635.5,285 642.5,270 649.5,262.5 656.5,259.5 663.5,261 670.5,267.5 678.5,274.5 685.5,274.5 692.5,265 700.5,255 707.5,245 714.5,232.5 721.5,225 728.5,222.5 736.5,226 743.5,240 750.5,250 757.5,257.5 764.5,262.5 772.5,264 779.5,260 786.5,255.5 793.5,258.5 801.5,258 808.5,257 815.5,254 821,222.5 829.5,203.5 837.5,190 844.5,176 851.5,162.5 858.5,181 865.5,187 873.5,187.5 880.5,192.5 887.5,196 894.5,202.5 902,200 909.5,206 916.5,209.5 923.5,207 930.5,207 938,205.5 945.5,192.5 952.5,182" fill="none" stroke="#000080" stroke-width="1" />
<polyline points="7.5,464.725 14.5,464.625 21.5,464.913 29.5,465.163 36.5,465.45 43.5,465.7 50.5,465.975 57.5,466.163 65.5,466.438 72.5,466.688 79.5,466.413 86.5,465.6 94.5,464.663 101.5,464.413 108.5,463.887 115.5,463.7 122.5,463.45 130.5,463.137 137.5,463.137 144.5,462.913 151.5,462.913 158.5,462.613 166.5,462.05 173.5,461.075 180.5,460.85 187.5,460.7 195.5,460.387 202.5,460.35 209.5,460.325 216.5,460.35 223.5,460.712 231.5,461.562 238.5,462.6 245.5,462.975 252.5,463.625 259.5,463.875 267.5,464 274.5,464.363 281.5,464.637 288.5,465.163 296.5,465.625 303.5,465.9 310.5,466.363 317.5,467.363 324.5,467.575 332.5,467.75 339.5,468.038 346.5,468.137 353.5,467.95 360.5,467.875 368.5,467.975 375.5,468.238 382.5,468.475 389.5,468.65 397.5,468.675 404.5,468.863 411.5,469.238 418.5,469.538 425.5,469.613 433.5,469.65 440.5,469.837 447.5,470.337 454.5,470.55 461.5,470.675 469.5,470.775 476.5,470.9 483.5,471.025 490.5,471.175 498.5,471.488 505.5,471.663 512.5,471.85 519.5,471.925 526.5,471.938 534.5,472.012 541.5,472.262 548.5,472.413 555.5,472.538 562.5,472.488 570.5,472.488 577.5,472.3 584.5,472.3 591.5,472.275 599.5,471.962 606.5,471.65 613.5,471.575 620.5,471.425 627.5,470.45 635.5,470.025 642.5,469.65 649.5,468.575 656.5,467.925 663.5,467.587 671.5,467.387 678.5,467.062 685.5,466.6 692.5,466.2 700.5,465.45 707.5,464.875 714.5,464.575 721.5,464.525 728.5,464.25 736.5,464.1 743.5,464.262 750.5,464.425 757.5,464.375 764.5,464.475 772.5,465.375 779.5,465.7 786.5,465.95 793.5,466.8 801.5,467.375 808.5,467.375 815.5,467.5 822.5,465.475 829.5,464.95 837.5,464.887 844.5,465.387 851.5,465.387 858.5,465.462 865.5,465.512 873.5,465.637 880.5,465.5 887.5,465.5 894.5,465.125 901.5,465.075 909.5,464.325 916.5,464.113 923.5,463.625 930.5,463.413 938.5,463.1 945.5,462.675 952.5,462.512" fill="none" stroke="#800000" stroke-width="1" />
<polyline points="7.5,465.35 14.5,465.05 21.5,465.525 29.5,465.925 36.5,466.4 43.5,466.8 50.5,467.25 57.5,467.525 65.5,467.975 72.5,468.375 79.5,468.375 86.5,466.95 94.5,464.5 101.5,463.5 108.5,461.875 115.5,461 122.5,459.95 130.5,458.95 137.5,458.4 144.5,457.45 151.5,457.45 158.5,458.275 166.5,459.6 173.5,458.65 180.5,459.825 187.5,460.4 195.5,460.825 202.5,461.75 209.5,462.25 216.5,463.25 223.5,463.975 231.5,464.85 238.5,465.6 245.5,467.3 252.5,467.425 259.5,467.35 267.5,467.175 274.5,466.975 281.5,467.025 288.5,467.075 296.5,467.275 303.5,466.95 310.5,467.125 317.5,467.425 324.5,467.725 332.5,468.15 339.5,468.9 346.5,469.3 353.5,468.875 360.5,468.675 368.5,468.675 375.5,469.525 382.5,469.825 389.5,469.875 397.5,469.625 404.5,469.575 411.5,469.575 418.5,469.775 425.5,470.35 433.5,470.625 440.5,471 447.5,471.15 454.5,471.275 461.5,471.475 469.5,471.925 476.5,472.225 483.5,472.475 490.5,472.575 498.5,472.625 505.5,472.7 512.5,472.7 519.5,472.7 526.5,472.6 534.5,472.55 541.5,472.6 548.5,472.6 555.5,472.6 562.5,472.4 570.5,472.35 577.5,471.9 584.5,471.9 591.5,471.85 599.5,471.325 606.5,470.75 613.5,470.55 620.5,470.25 627.5,468.3 635.5,467.65 642.5,466.95 649.5,465.25 656.5,463.95 663.5,463.325 671.5,463.45 678.5,463.375 685.5,462.65 692.5,462.15 700.5,462.6 707.5,462.1 714.5,462.2 721.5,463.8 728.5,464.55 736.5,464.875 743.5,465.075 750.5,465.475 757.5,466.1 764.5,466.8 772.5,468.15 779.5,469.3 786.5,469.7 793.5,469.8 801.5,470.2 808.5,469.875 815.5,469.925 822.5,465.475 829.5,463.8 837.5,462.975 844.5,462.625 851.5,461.475 858.5,461.225 865.5,461.225 873.5,461.075 880.5,461.125 887.5,461.075 894.5,464.775 901.5,466.35 909.5,465.675 916.5,465.6 923.5,465.775 930.5,465.6 938.5,464.975 945.5,464.275 952.5,463.9" fill="none" stroke="#808080" stroke-width="1" />
<polyline points="7.5,464.7 14.5,464.1 21.5,465.05 29.5,465.85 36.5,466.8 43.5,468.9 50.5,470.4 57.5,470 65.5,470.1 72.5,469.95 79.5,467.85 86.5,463.5 94.5,459 101.5,456.9 108.5,453.8 115.5,454.15 122.5,456.4 130.5,458.9 137.5,459.9 144.5,461.1 151.5,460.75 158.5,460.15 166.5,460.3 173.5,457.4 180.5,458.55 187.5,460.05 195.5,461.5 202.5,463.2 209.5,467.1 216.5,467.95 223.5,467.9 231.5,468.2 238.5,468 245.5,467.5 252.5,466.9 259.5,466.8 267.5,466.15 274.5,465.95 281.5,466.55 288.5,467.25 296.5,467.75 303.5,467.75 310.5,468.3 317.5,468.3 324.5,468.2 332.5,468.55 339.5,470.05 346.5,470.3 353.5,469.45 360.5,469.15 368.5,468.8 375.5,469 382.5,469.35 389.5,470.3 397.5,470.1 404.5,470.35 411.5,470.15 418.5,470.2 425.5,470.4 433.5,471.15 440.5,471.65 447.5,472.15 454.5,472.35 461.5,472.55 469.5,472.7 476.5,472.8 483.5,472.8 490.5,472.8 498.5,472.7 505.5,472.7 512.5,472.6 519.5,472.6 526.5,472.4 534.5,472.4 541.5,472.5 548.5,472.6 555.5,472.6 562.5,472.4 570.5,472.3 577.5,471.3 584.5,471.2 591.5,471.1 599.5,470.25 606.5,469.2 613.5,469.8 620.5,469.3 627.5,465.5 635.5,465.05 642.5,464.7 649.5,460.7 656.5,458.6 663.5,461.15 671.5,461.85 678.5,462.05 685.5,464.6 692.5,465.7 700.5,464.05 707.5,462.35 714.5,462.35 721.5,463 728.5,463.4 736.5,465.7 743.5,467.8 750.5,468.6 757.5,469.2 764.5,470.2 772.5,470.6 779.5,470.8 786.5,470.8 793.5,470.4 801.5,470.2 808.5,469.15 815.5,469.05 822.5,460.15 829.5,457.2 837.5,455.75 844.5,456.1 851.5,453.9 858.5,462.3 865.5,465.25 873.5,466.4 880.5,466.15 887.5,468.25 894.5,467.25 901.5,467.45 909.5,464.95 916.5,465.05 923.5,463.3 930.5,463.95 938.5,462.5 945.5,463.6 952.5,462.75" fill="none" stroke="#ff00ff" stroke-width="1" />
<polyline points="7,581 10.6,581.6 17.6,582.5 30,583.2 47,583.5" fill="none" stroke="#ff00ff" stroke-width="1" />
<polyline points="81.25,583.5 86.5,575 94.5,567.5 101,561 108,555 115.5,554 122.5,556 130,555 137,557.5 144,556 151,554.5 158.5,555.5 166,553.75 173.5,552 180.5,553.75 187.5,556 195.5,558.75 202.5,561 209.5,562 216.5,562 224,562 231.5,561 238.5,559.5 245.5,558.75 252.5,558.75 259.5,556.25 267,555 274,553.75 281.5,552 288.5,550.75 296,549.5 303,548 310,547 317,546.25 324.5,546.25 332.5,548.75 339.5,548.75 346.5,548.75 353.5,547.5 360.5,546.25 368.5,545 375.5,545 382.5,544.5 389.5,544.5 397.5,543.25 404.5,542.5 411.5,543.75 418.5,543.75 425.5,543.75 433.5,544.25 440.5,544.5 447.5,545 454.5,546.25 461.5,547.5 469.5,549.5 476.5,550.5 483.5,550.5 490.5,550.5 498.5,550 504.5,549.5 512,550 537.5,548.75 550,549.25 557.5,550 570,550 587.5,550 599.5,548.25 606.5,547 613.5,545.75 620.5,544.5 627.5,541.25 635.5,537.5 642.5,535 649.5,534.25 656.5,534.25 663.5,534.25 671.5,534.25 678.5,534.25 685.5,533.75 692.5,532 700.5,530.75 707.5,529.5 714.5,528.25 721.5,528.25 728.5,527.5 736.5,529.5 743.5,531.25 750.5,532.5 757.5,533 765,534.5 772.5,535.5 779.5,536.25 786.5,535.5 793.75,536.25 801.5,537 808.75,537 815.75,537 820,531.25 823,528.75 829.5,527.5 837.5,527.5 844.5,527 851.5,526.25 858.5,526.25 865.5,527.5 873.5,528.75 880.5,529.5 887.5,530.5 894.5,531.25 902,531.75 909.5,533 916.5,534.25 923.5,534.25 930.5,534.25 938,534.25 945.5,533.25 951,532.5" fill="none" stroke="#000080" stroke-width="1" />
<polyline points="81.25,585.5 86.5,584.5 94.5,581 101,577 108,572.5 115.5,568.75 122.5,565.5 130,563.75 137,562.5 144,560.75 151,559.5 158.5,558.75 166,558 173.5,557 180.5,556 187.5,556 195.5,557 202.5,557.5 209.5,558 216.5,559 224,559.5 231.5,560 238.5,560 245.5,559.5 252.5,559.5 259.5,558.75 267,557.5 274,556.25 281.5,555.5 288.5,554.5 296,553.75 303,552.5 310,551.25 317,550.5 324.5,549.5 332.5,549.25 339.5,549.25 346.5,549.25 353.5,548.75 360.5,548.25 368.5,547.5 375.5,547 382.5,546.25 389.5,545.75 397.5,545 404.5,544.25 411.5,544.25 418.5,544.25 425.5,544.25 433.5,544.25 440.5,544.25 447.5,544.5 454.5,545 461.5,545.75 469.5,547 476.5,548 483.5,548.75 490.5,549.25 498.5,549.5 504.5,549.5 550,549.5 587.5,549.5 599.5,549.25 606.5,548.75 613.5,548.25 620.5,547.5 627.5,545.75 635.5,544.25 642.5,542.5 649.5,540.75 656.5,539.5 663.5,538.75 671.5,538 678.5,537.5 685.5,536.75 692.5,536.25 700.5,535 707.5,534.25 714.5,533 721.5,532 728.5,530.75 736.5,530 743.5,530.75 750.5,531.25 757.5,531.5 765,532 772.5,533 779.5,533.75 786.5,534.5 793.75,535 801.5,535.5 808.75,535.5 815.75,535.5 823,533.75 829.5,532.5 837.5,531.25 844.5,530.75 851.5,530 858.5,529.25 865.5,528.75 873.5,528.75 880.5,529.25 887.5,529.5 894.5,529.5 902,530 909.5,530.75 916.5,531.75 923.5,532.5 930.5,533 938,533.25 945.5,533.25 952,533.25" fill="none" stroke="#ff00ff" stroke-width="1" />
<rect x="570" y="71" width="1" height="255" fill="#0000ff"/>
<rect x="808" y="89" width="1" height="167" fill="#0000ff"/>
<rect x="570" y="98" width="99" height="1" fill="#0000ff"/>
<rect x="709" y="98" width="100" height="1" fill="#0000ff"/>
<rect x="642" y="262" width="1" height="124" fill="#0000ff"/>
<rect x="793" y="272" width="1" height="114" fill="#0000ff"/>
<rect x="642" y="376" width="54" height="1" fill="#0000ff"/>
<rect x="737" y="376" width="57" height="1" fill="#0000ff"/>
</g>
<g shape-rendering="crispEdges" fill="none">
<polyline points="648.75,210 628,185" fill="none" stroke="#0000ff" stroke-width="1" />
<polyline points="628.75,193 628,185 636,187.5" fill="none" stroke="#0000ff" stroke-width="1" />
<polyline points="556.25,363.75 513.75,372.5" fill="none" stroke="#0000ff" stroke-width="1" />
<polyline points="520,367.5 513.75,372.5 521.25,376.25" fill="none" stroke="#0000ff" stroke-width="1" />
<polyline points="808.75,281.25 822.5,332.5" fill="none" stroke="#0000ff" stroke-width="1" />
<polyline points="815,326 822.5,332.5 825,324" fill="none" stroke="#0000ff" stroke-width="1" />
<polyline points="94.5,57.5 112,65.5" fill="none" stroke="#000000" stroke-width="1" />
<polyline points="562.5,371 562.5,372.5 579.5,376.75" fill="none" stroke="#000000" stroke-width="1" />
</g>
<text x="228 236" y="130" fill="#0000ff" stroke="#fff" stroke-width="0.22">60</text><text x="248 264" y="130" fill="#0000ff" font-family="Liberation Sans, Noto Sans CJK SC, sans-serif">日线</text>
<text transform="translate(697,104.5) scale(0.778,1)" fill="#0000ff" stroke="#0000ff" stroke-width="0.2">T</text><text x="673 681 689 705" y="104.5" fill="#0000ff" stroke="#fff" stroke-width="0.22">33()</text>
<text x="603 611 619 627" y="176" fill="#0000ff" stroke="#fff" stroke-width="0.22">1108</text>
<text x="722 738 754 770 786" y="194" fill="#0000ff" font-family="Liberation Sans, Noto Sans CJK SC, sans-serif">三角形整理</text>
<text transform="translate(725,383) scale(0.778,1)" fill="#0000ff" stroke="#0000ff" stroke-width="0.2">T</text><text x="701 709 717 733" y="383" fill="#0000ff" stroke="#fff" stroke-width="0.22">21()</text>
<text x="805 813 821 829" y="360" fill="#0000ff" stroke="#fff" stroke-width="0.22">1207</text>
<text x="480 488 496 504" y="381" fill="#0000ff" stroke="#fff" stroke-width="0.22">1023</text>
<text x="586 594 602 610 618" y="383" fill="#000000" stroke="#fff" stroke-width="0.22">0.932</text>
<text x="118 126 134 142 150" y="71" fill="#000000" stroke="#fff" stroke-width="0.22">1.670</text>
<text x="11 27" y="15" fill="#000000" font-family="Liberation Sans, Noto Sans CJK SC, sans-serif">五粮</text><text transform="translate(39,15) scale(0.658,1)" fill="#000000" stroke="#000000" stroke-width="0.3">Y</text><text transform="translate(47,15) scale(0.658,1)" fill="#000000" stroke="#000000" stroke-width="0.3">G</text><text transform="translate(55,15) scale(0.854,1)" fill="#000000" stroke="#000000" stroke-width="0.15">P</text><text transform="translate(79,15) scale(0.534,1)" fill="#000000" stroke="#000000" stroke-width="0.45">M</text><text transform="translate(87,15) scale(0.658,1)" fill="#000000" stroke="#000000" stroke-width="0.3">A</text><text x="63 95 103 111 119 127 135 143 151 159 167 175 183 191 199 207 215 223 231 239 247 255 263 271 279 287 295 303 311" y="15" fill="#000000" stroke="#fff" stroke-width="0.22">1(5,10,60,34,55,89,144,233,3)</text>
<text transform="translate(327,15) scale(0.534,1)" fill="#000080" stroke="#000080" stroke-width="0.45">M</text><text x="335 343 351 359 367 375 383" y="15" fill="#000080" stroke="#fff" stroke-width="0.22">1:1.147</text><path d="M394 1h1v16h-1z M393 3h3v2h-3z M392 5h5v1h-5z" fill="#000080" shape-rendering="crispEdges"/>
<text transform="translate(407,15) scale(0.534,1)" fill="#ff00ff" stroke="#ff00ff" stroke-width="0.45">M</text><text x="415 423 431 439 447 455 463" y="15" fill="#ff00ff" stroke="#fff" stroke-width="0.22">2:1.121</text><path d="M474 1h1v16h-1z M473 3h3v2h-3z M472 5h5v1h-5z" fill="#ff00ff" shape-rendering="crispEdges"/>
<text transform="translate(487,15) scale(0.534,1)" fill="#808080" stroke="#808080" stroke-width="0.45">M</text><text x="495 503 511 519 527 535 543" y="15" fill="#808080" stroke="#fff" stroke-width="0.22">3:1.433</text><path d="M554 1h1v16h-1z M553 13h3v2h-3z M552 12h5v1h-5z" fill="#808080" shape-rendering="crispEdges"/>
<text x="7 15 23 31 39 47 63 71 79 87 95 103 111 119 127 135" y="33" fill="#000000" stroke="#fff" stroke-width="0.22">0380042006/08/18</text>
<text x="155" y="33" fill="#ff0000" font-family="Liberation Sans, Noto Sans CJK SC, sans-serif">开</text><text x="167 175 183 191 199" y="33" fill="#ff0000" stroke="#fff" stroke-width="0.22">1.172</text><path d="M210 19h1v16h-1z M209 21h3v2h-3z M208 23h5v1h-5z" fill="#ff0000" shape-rendering="crispEdges"/><text x="227" y="33" fill="#ff0000" font-family="Liberation Sans, Noto Sans CJK SC, sans-serif">高</text><text x="239 247 255 263 271" y="33" fill="#ff0000" stroke="#fff" stroke-width="0.22">1.196</text><path d="M282 19h1v16h-1z M281 21h3v2h-3z M280 23h5v1h-5z" fill="#ff0000" shape-rendering="crispEdges"/>
<text x="299" y="33" fill="#008000" font-family="Liberation Sans, Noto Sans CJK SC, sans-serif">低</text><text x="311 319 327 335 343" y="33" fill="#008000" stroke="#fff" stroke-width="0.22">1.142</text><path d="M354 19h1v16h-1z M353 21h3v2h-3z M352 23h5v1h-5z" fill="#008000" shape-rendering="crispEdges"/>
<text x="371" y="33" fill="#ff0000" font-family="Liberation Sans, Noto Sans CJK SC, sans-serif">收</text><text x="383 391 399 407 415" y="33" fill="#ff0000" stroke="#fff" stroke-width="0.22">1.157</text><path d="M426 19h1v16h-1z M425 21h3v2h-3z M424 23h5v1h-5z" fill="#ff0000" shape-rendering="crispEdges"/>
<text x="443" y="33" fill="#000000" font-family="Liberation Sans, Noto Sans CJK SC, sans-serif">量</text><text x="455 463 471 479 487 495 503" y="33" fill="#000000" stroke="#fff" stroke-width="0.22">2141422</text><path d="M514 19h1v16h-1z M513 21h3v2h-3z M512 23h5v1h-5z" fill="#000000" shape-rendering="crispEdges"/><text x="531" y="33" fill="#000000" font-family="Liberation Sans, Noto Sans CJK SC, sans-serif">额</text><text x="543 551 559 567 575" y="33" fill="#000000" stroke="#fff" stroke-width="0.22">25124</text><path d="M586 19h1v16h-1z M585 21h3v2h-3z M584 23h5v1h-5z" fill="#000000" shape-rendering="crispEdges"/><text x="603" y="33" fill="#000000" font-family="Liberation Sans, Noto Sans CJK SC, sans-serif">换</text><text transform="translate(647,33) scale(0.570,1)" fill="#000000" stroke="#000000" stroke-width="0">%</text><text x="615 623 631 639" y="33" fill="#000000" stroke="#fff" stroke-width="0.22">5.64</text><text x="667" y="33" fill="#000000" font-family="Liberation Sans, Noto Sans CJK SC, sans-serif">振</text><text transform="translate(711,33) scale(0.570,1)" fill="#000000" stroke="#000000" stroke-width="0">%</text><text x="679 687 695 703" y="33" fill="#000000" stroke="#fff" stroke-width="0.22">4.70</text>
<text x="731" y="33" fill="#ff0000" font-family="Liberation Sans, Noto Sans CJK SC, sans-serif">涨</text><text transform="translate(831,33) scale(0.570,1)" fill="#ff0000" stroke="#ff0000" stroke-width="0">%</text><text x="743 751 759 767 775 783 791 799 807 815 823" y="33" fill="#ff0000" stroke="#fff" stroke-width="0.22">(0.009)0.78</text>
<clipPath id="hc"><rect x="0" y="0" width="961" height="40"/></clipPath><g clip-path="url(#hc)">
<text x="851 867" y="33" fill="#008000" font-family="Liberation Sans, Noto Sans CJK SC, sans-serif">指数</text><rect x="885" y="27" width="6" height="1" fill="#008000" shape-rendering="crispEdges"/><rect x="949" y="27" width="6" height="1" fill="#008000" shape-rendering="crispEdges"/><text x="879 895 903 911 919 927 935 943 959" y="33" fill="#008000" stroke="#fff" stroke-width="0.22">(15.323)0</text>
</g>
<text transform="translate(7,420) scale(0.658,1)" fill="#000000" stroke="#000000" stroke-width="0.3">V</text><text transform="translate(15,420) scale(0.658,1)" fill="#000000" stroke="#000000" stroke-width="0.3">O</text><text transform="translate(23,420) scale(0.778,1)" fill="#000000" stroke="#000000" stroke-width="0.2">L</text><text x="31 39 47 55 63 71 79 87 95" y="420" fill="#000000" stroke="#fff" stroke-width="0.22">(5,10,20)</text>
<text x="111 119 127 135 143 151 159 167 175 183 191" y="420" fill="#000080" stroke="#fff" stroke-width="0.22">2141422.250</text><path d="M202 406h1v16h-1z M201 408h3v2h-3z M200 410h5v1h-5z" fill="#000080" shape-rendering="crispEdges"/>
<text transform="translate(215,420) scale(0.534,1)" fill="#ff00ff" stroke="#ff00ff" stroke-width="0.45">M</text><text transform="translate(223,420) scale(0.658,1)" fill="#ff00ff" stroke="#ff00ff" stroke-width="0.3">A</text><text x="231 239 247 255 263 271 279 287 295 303 311 319 327" y="420" fill="#ff00ff" stroke="#fff" stroke-width="0.22">1:1404365.750</text><path d="M338 406h1v16h-1z M337 408h3v2h-3z M336 410h5v1h-5z" fill="#ff00ff" shape-rendering="crispEdges"/>
<text transform="translate(351,420) scale(0.534,1)" fill="#808080" stroke="#808080" stroke-width="0.45">M</text><text transform="translate(359,420) scale(0.658,1)" fill="#808080" stroke="#808080" stroke-width="0.3">A</text><text x="367 375 383 391 399 407 415 423 431 439 447 455 463" y="420" fill="#808080" stroke="#fff" stroke-width="0.22">2:1240641.250</text><path d="M474 406h1v16h-1z M473 408h3v2h-3z M472 410h5v1h-5z" fill="#808080" shape-rendering="crispEdges"/>
<text transform="translate(487,420) scale(0.534,1)" fill="#800000" stroke="#800000" stroke-width="0.45">M</text><text transform="translate(495,420) scale(0.658,1)" fill="#800000" stroke="#800000" stroke-width="0.3">A</text><text x="503 511 519 527 535 543 551 559 567 575 583 591 599" y="420" fill="#800000" stroke="#fff" stroke-width="0.22">3:1784138.625</text><path d="M610 406h1v16h-1z M609 418h3v2h-3z M608 417h5v1h-5z" fill="#800000" shape-rendering="crispEdges"/>
<text transform="translate(7,500) scale(0.534,1)" fill="#000000" stroke="#000000" stroke-width="0.45">M</text><text transform="translate(15,500) scale(0.658,1)" fill="#000000" stroke="#000000" stroke-width="0.3">A</text><text transform="translate(23,500) scale(0.712,1)" fill="#000000" stroke="#000000" stroke-width="0.25">C</text><text transform="translate(31,500) scale(0.658,1)" fill="#000000" stroke="#000000" stroke-width="0.3">D</text><text x="39 47 55 63 71 79 87 95 103" y="500" fill="#000000" stroke="#fff" stroke-width="0.22">(26,12,9)</text>
<text transform="translate(119,500) scale(0.658,1)" fill="#000080" stroke="#000080" stroke-width="0.3">D</text><text transform="translate(135,500) scale(0.854,1)" fill="#000080" stroke="#000080" stroke-width="0.15">F</text><text transform="translate(143,500) scale(0.854,1)" fill="#000080" stroke="#000080" stroke-width="0.15">F</text><rect x="157" y="494" width="6" height="1" fill="#000080" shape-rendering="crispEdges"/><text x="127 151 167 175 183 191 199" y="500" fill="#000080" stroke="#fff" stroke-width="0.22">I:0.057</text><path d="M210 486h1v16h-1z M209 488h3v2h-3z M208 490h5v1h-5z" fill="#000080" shape-rendering="crispEdges"/>
<text transform="translate(223,500) scale(0.658,1)" fill="#ff00ff" stroke="#ff00ff" stroke-width="0.3">D</text><text transform="translate(231,500) scale(0.778,1)" fill="#ff00ff" stroke="#ff00ff" stroke-width="0.2">E</text><text transform="translate(239,500) scale(0.658,1)" fill="#ff00ff" stroke="#ff00ff" stroke-width="0.3">A</text><rect x="253" y="494" width="6" height="1" fill="#ff00ff" shape-rendering="crispEdges"/><text x="247 263 271 279 287 295" y="500" fill="#ff00ff" stroke="#fff" stroke-width="0.22">:0.067</text><path d="M306 486h1v16h-1z M305 488h3v2h-3z M304 490h5v1h-5z" fill="#ff00ff" shape-rendering="crispEdges"/>
<text transform="translate(319,500) scale(0.534,1)" fill="#808080" stroke="#808080" stroke-width="0.45">M</text><text transform="translate(327,500) scale(0.658,1)" fill="#808080" stroke="#808080" stroke-width="0.3">A</text><text transform="translate(335,500) scale(0.712,1)" fill="#808080" stroke="#808080" stroke-width="0.25">C</text><text transform="translate(343,500) scale(0.658,1)" fill="#808080" stroke="#808080" stroke-width="0.3">D</text><text x="351 359 367 375 383" y="500" fill="#808080" stroke="#fff" stroke-width="0.22">:0.02</text><path d="M394 486h1v16h-1z M393 488h3v2h-3z M392 490h5v1h-5z" fill="#808080" shape-rendering="crispEdges"/>
<rect x="1" y="584" width="80" height="16" fill="#fff"/>
<text x="9 25 41 57 73" y="598" fill="#000000" font-family="Liberation Sans, Noto Sans CJK SC, sans-serif">飞狐交易师</text>
<text transform="translate(1012,58) scale(0.570,1)" fill="#808080" stroke="#808080" stroke-width="0">%</text><text x="996 1004" y="58" fill="#808080" stroke="#fff" stroke-width="0.22">20</text>
<text x="980 988 996 1004 1012" y="75" fill="#808080" stroke="#fff" stroke-width="0.22">1.680</text>
<text transform="translate(1012,118) scale(0.570,1)" fill="#808080" stroke="#808080" stroke-width="0">%</text><text x="996 1004" y="118" fill="#808080" stroke="#fff" stroke-width="0.22">10</text>
<text x="980 988 996 1004 1012" y="135" fill="#808080" stroke="#fff" stroke-width="0.22">1.540</text>
<text transform="translate(1012,177) scale(0.570,1)" fill="#808080" stroke="#808080" stroke-width="0">%</text><text x="1004" y="177" fill="#808080" stroke="#fff" stroke-width="0.22">0</text>
<text x="980 988 996 1004 1012" y="194" fill="#808080" stroke="#fff" stroke-width="0.22">1.400</text>
<rect x="986" y="231" width="6" height="1" fill="#808080" shape-rendering="crispEdges"/><text transform="translate(1012,237) scale(0.570,1)" fill="#808080" stroke="#808080" stroke-width="0">%</text><text x="996 1004" y="237" fill="#808080" stroke="#fff" stroke-width="0.22">10</text>
<text x="980 988 996 1004 1012" y="254" fill="#808080" stroke="#fff" stroke-width="0.22">1.260</text>
<rect x="986" y="291" width="6" height="1" fill="#808080" shape-rendering="crispEdges"/><text transform="translate(1012,297) scale(0.570,1)" fill="#808080" stroke="#808080" stroke-width="0">%</text><text x="996 1004" y="297" fill="#808080" stroke="#fff" stroke-width="0.22">20</text>
<text x="980 988 996 1004 1012" y="314" fill="#808080" stroke="#fff" stroke-width="0.22">1.120</text>
<rect x="986" y="351" width="6" height="1" fill="#808080" shape-rendering="crispEdges"/><text transform="translate(1012,357) scale(0.570,1)" fill="#808080" stroke="#808080" stroke-width="0">%</text><text x="996 1004" y="357" fill="#808080" stroke="#fff" stroke-width="0.22">30</text>
<text x="980 988 996 1004 1012" y="374" fill="#808080" stroke="#fff" stroke-width="0.22">0.980</text>
<text x="972 980 988 996 1004 1012" y="450" fill="#808080" stroke="#fff" stroke-width="0.22">500000</text>
<text x="1012" y="479" fill="#808080" stroke="#fff" stroke-width="0.22">0</text>
<rect x="964.5" y="466.5" width="26" height="17" fill="none" stroke="#808080" shape-rendering="crispEdges"/>
<text transform="translate(970,481) scale(0.658,1)" fill="#808080" stroke="#808080" stroke-width="0.3">X</text><text x="978 986" y="481" fill="#808080" stroke="#fff" stroke-width="0.22">10</text>
<text x="988 996 1004 1012" y="521" fill="#808080" stroke="#fff" stroke-width="0.22">0.10</text>
<text x="988 996 1004 1012" y="546" fill="#808080" stroke="#fff" stroke-width="0.22">0.00</text>
<rect x="978" y="565" width="6" height="1" fill="#808080" shape-rendering="crispEdges"/><text x="988 996 1004 1012" y="571" fill="#808080" stroke="#fff" stroke-width="0.22">0.10</text>
<g shape-rendering="crispEdges"><path d="M966 1h3v8h-3z M964 3h7v1h-7z M962 7h2v2h-2z M971 7h2v2h-2z M964 9h1v1h-1z M970 9h1v1h-1z M965 10h5v1h-5z M966 11h3v1h-3z" fill="#ff00ff"/>
<rect x="991.5" y="1.5" width="12" height="10" fill="none" stroke="#808080"/><path d="M999.5 1.5v10 M991.5 7.5h8" stroke="#808080" fill="none"/></g>
</svg></body></html>
